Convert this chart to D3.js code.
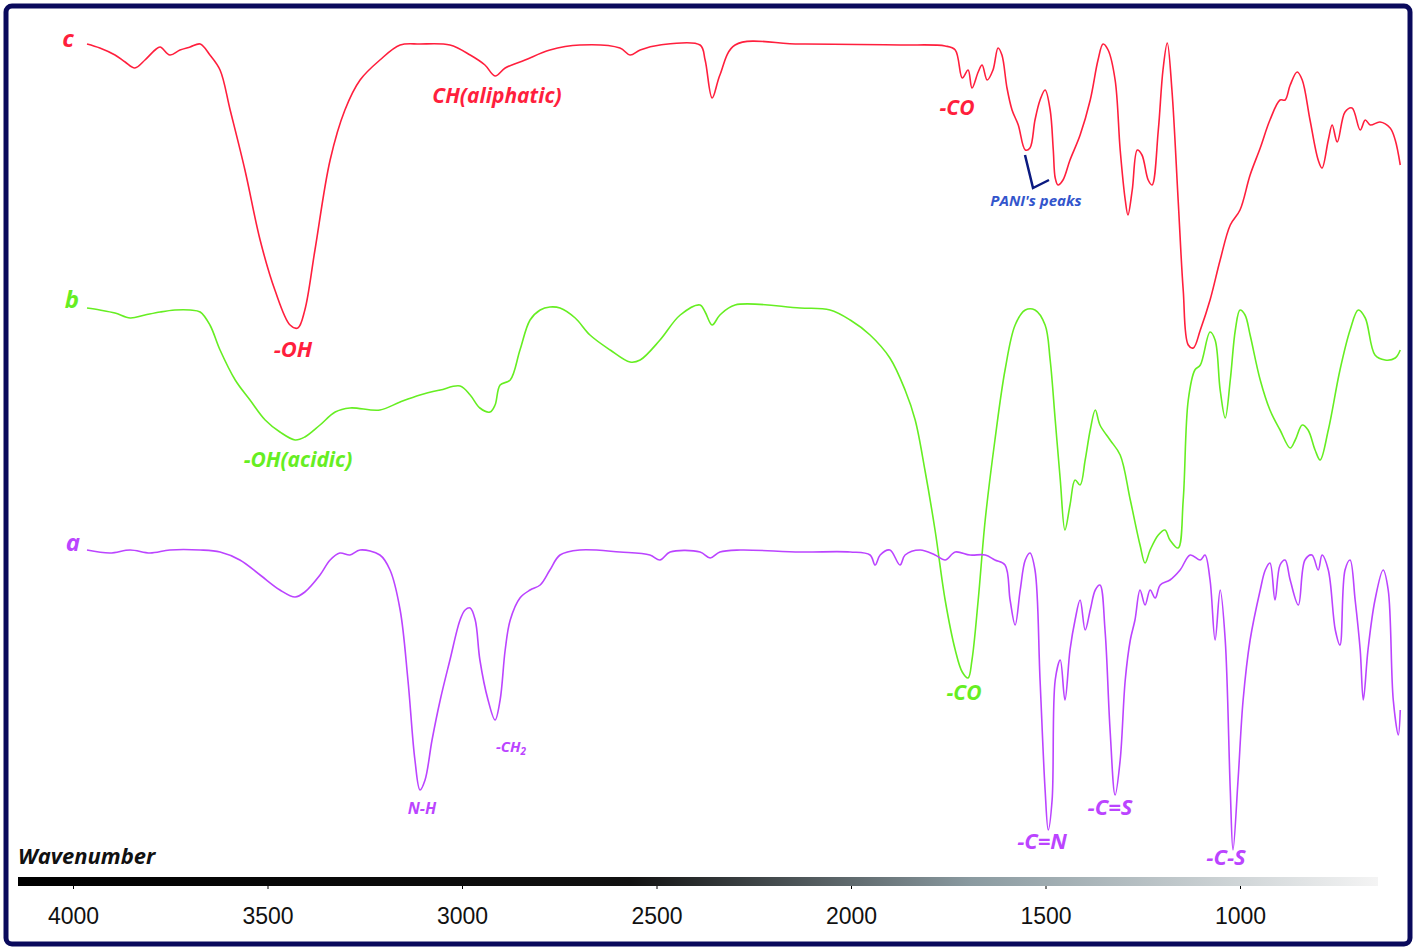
<!DOCTYPE html>
<html><head><meta charset="utf-8">
<script src="https://cdn.jsdelivr.net/npm/d3@7"></script>
<style>body{margin:0;background:#fff}</style></head>
<body><svg id="c" width="1418" height="952"></svg>
<script>
// wavenumber (cm-1) and signal (arbitrary units, larger = lower transmittance)
const wnC=[3964,3931,3892,3866,3841,3815,3789,3776,3751,3725,3699,3673,3648,3622,3596,3558,3519,3481,3442,3422,3404,3378,3339,3301,3262,3211,3159,3108,3031,2979,2941,2915,2889,2838,2774,2697,2594,2568,2542,2491,2388,2375,2357,2337,2298,2131,1874,1758,1732,1714,1699,1689,1673,1663,1650,1635,1622,1612,1599,1586,1570,1552,1540,1527,1514,1501,1488,1480,1475,1468,1455,1437,1411,1385,1365,1352,1339,1321,1308,1295,1288,1277,1264,1252,1236,1226,1210,1198,1187,1175,1159,1146,1133,1120,1102,1077,1051,1025,1000,974,948,923,897,884,871,853,840,820,799,789,773,763,750,730,712,691,678,665,640,614,601,588];
const sigC=[44,48,55,62,68,60,50,47,55,50,47,44,55,70,110,170,240,290,325,328,310,250,160,110,80,60,45,44,45,55,65,76,68,60,50,45,48,55,50,45,45,60,98,75,45,44,45,46,50,78,70,88,72,65,80,70,48,55,88,110,125,150,148,120,100,90,110,150,178,185,180,160,135,100,60,44,50,80,150,200,215,190,150,155,180,185,130,70,43,90,200,290,345,348,330,300,260,225,210,175,148,120,100,100,85,72,80,120,160,168,140,125,142,112,108,130,120,125,122,128,140,165];
const wnB=[3964,3931,3892,3853,3815,3776,3738,3699,3673,3648,3622,3583,3545,3506,3468,3429,3404,3365,3326,3288,3211,3159,3108,3056,3005,2979,2954,2928,2915,2902,2876,2851,2825,2799,2774,2748,2709,2671,2619,2568,2542,2491,2439,2388,2375,2357,2337,2298,2131,2054,2002,1951,1900,1861,1835,1810,1784,1758,1732,1714,1699,1689,1673,1655,1630,1604,1578,1552,1527,1501,1488,1475,1462,1450,1437,1424,1411,1398,1385,1372,1360,1334,1308,1282,1257,1244,1231,1210,1193,1180,1159,1146,1133,1116,1102,1077,1064,1051,1038,1025,1012,1000,987,974,948,923,897,871,858,840,825,807,794,773,743,717,696,678,653,627,601,588];
const sigB=[308,310,313,318,315,312,310,310,312,325,350,380,400,420,432,440,437,425,412,408,410,402,395,390,386,395,408,412,405,385,380,350,320,310,307,308,318,335,350,362,360,340,315,305,312,325,315,305,308,310,320,335,358,390,420,470,530,600,650,672,678,660,600,520,440,370,325,310,310,325,360,420,480,530,505,480,485,460,430,410,425,440,455,500,545,563,550,535,530,540,548,500,400,370,365,332,340,390,418,380,330,310,315,335,380,410,430,448,440,425,430,450,460,430,370,330,310,318,355,360,358,350];
const wnA=[3964,3905,3853,3802,3751,3673,3622,3571,3519,3468,3429,3404,3365,3339,3314,3288,3262,3211,3185,3159,3139,3121,3108,3095,3077,3056,3031,3005,2992,2979,2966,2954,2933,2915,2902,2889,2876,2851,2825,2799,2774,2748,2697,2594,2517,2491,2465,2388,2362,2337,2285,2131,2002,1951,1938,1925,1900,1874,1861,1822,1784,1758,1732,1694,1655,1630,1604,1591,1578,1565,1552,1540,1527,1514,1501,1493,1483,1475,1462,1450,1437,1424,1411,1398,1385,1372,1360,1347,1334,1321,1308,1295,1282,1270,1257,1244,1231,1218,1205,1180,1154,1128,1102,1090,1077,1064,1051,1038,1025,1018,1005,992,974,948,935,923,910,897,884,871,850,833,815,799,789,773,755,743,730,717,704,691,683,671,653,632,619,606,593,588];
const sigA=[550,553,550,553,550,550,552,560,575,590,597,592,575,560,553,555,550,555,570,610,680,760,790,780,740,700,660,620,610,608,620,660,700,720,700,650,620,598,590,585,570,555,550,552,555,560,552,552,558,552,550,552,552,555,565,555,550,565,555,550,555,560,552,555,555,560,565,600,625,590,560,553,570,680,790,830,800,680,660,700,650,620,600,630,610,590,585,630,730,795,760,680,640,620,590,605,590,598,585,580,570,555,560,555,580,640,590,640,790,850,780,700,640,590,570,563,600,565,560,580,605,560,555,570,555,570,630,645,570,560,600,650,700,650,600,570,590,700,735,710];
const ticks=[4000,3500,3000,2500,2000,1500,1000];

const svg=d3.select("#c");
const x=d3.scaleLinear().domain([4000,1000]).range([73,1240]);
const y=d3.scaleLinear().domain([0,900]).range([0,900]);
const line=d3.line().x(d=>x(d[0])).y(d=>y(d[1])).curve(d3.curveCatmullRom.alpha(0.5));
svg.append("rect").attr("x",6).attr("y",6).attr("width",1404).attr("height",938).attr("rx",6)
  .attr("fill","#fff").attr("stroke","#0a0a5c").attr("stroke-width",5);
const series=[[wnC,sigC,"#ff1f3d"],[wnB,sigB,"#66ee22"],[wnA,sigA,"#bb44ff"]];
series.forEach(([w,s,c])=>{
  svg.append("path").datum(w.map((v,i)=>[v,s[i]])).attr("d",line)
    .attr("fill","none").attr("stroke",c).attr("stroke-width",1.6);
});
const lbl=(t,px,py,c,sz,anchor="middle")=>svg.append("text").attr("x",px).attr("y",py).attr("fill",c)
  .attr("font-family","Open Sans, sans-serif").attr("font-weight","bold").attr("font-style","italic")
  .attr("font-size",sz).attr("text-anchor",anchor).text(t);
lbl("c",68,47,"#ff1f3d",24);lbl("b",72,308,"#66ee22",24);lbl("a",73,551,"#bb44ff",24);
lbl("-OH",293,357,"#ff1f3d",22);lbl("CH(aliphatic)",497,103,"#ff1f3d",21);lbl("-CO",957,115,"#ff1f3d",21);
lbl("PANI's peaks",1036,206,"#3355cc",15);
lbl("-OH(acidic)",298,467,"#66ee22",21);lbl("-CO",964,700,"#66ee22",21);
lbl("N-H",422,814,"#bb44ff",16);
const ch=lbl("-CH",511,752,"#bb44ff",15);ch.append("tspan").attr("font-size",10).attr("dy",3).text("2");
lbl("-C=N",1042,849,"#bb44ff",22);lbl("-C=S",1110,815,"#bb44ff",22);lbl("-C-S",1226,865,"#bb44ff",22);
svg.append("path").attr("d",d3.line()([[1025,155],[1033,188],[1049,180]])).attr("fill","none")
  .attr("stroke","#0b1a80").attr("stroke-width",2.5);
lbl("Wavenumber",18,864,"#111",22,"start");
const g=svg.append("defs").append("linearGradient").attr("id","gr");
g.append("stop").attr("offset","0").attr("stop-color","#000");
g.append("stop").attr("offset","0.45").attr("stop-color","#111");
g.append("stop").attr("offset","0.7").attr("stop-color","#8a9aa0");
g.append("stop").attr("offset","1").attr("stop-color","#f4f4f4");
svg.append("rect").attr("x",18).attr("y",877).attr("width",1360).attr("height",9).attr("fill","url(#gr)");
const ax=svg.append("g").attr("transform","translate(0,886)")
  .call(d3.axisBottom(x).tickValues(ticks).tickSize(3).tickFormat(d3.format("d")));
ax.select(".domain").remove();
ax.selectAll("text").attr("font-family","Liberation Sans, Arial").attr("font-size",23).attr("fill","#111").attr("dy","1.4em");
</script></body></html>
